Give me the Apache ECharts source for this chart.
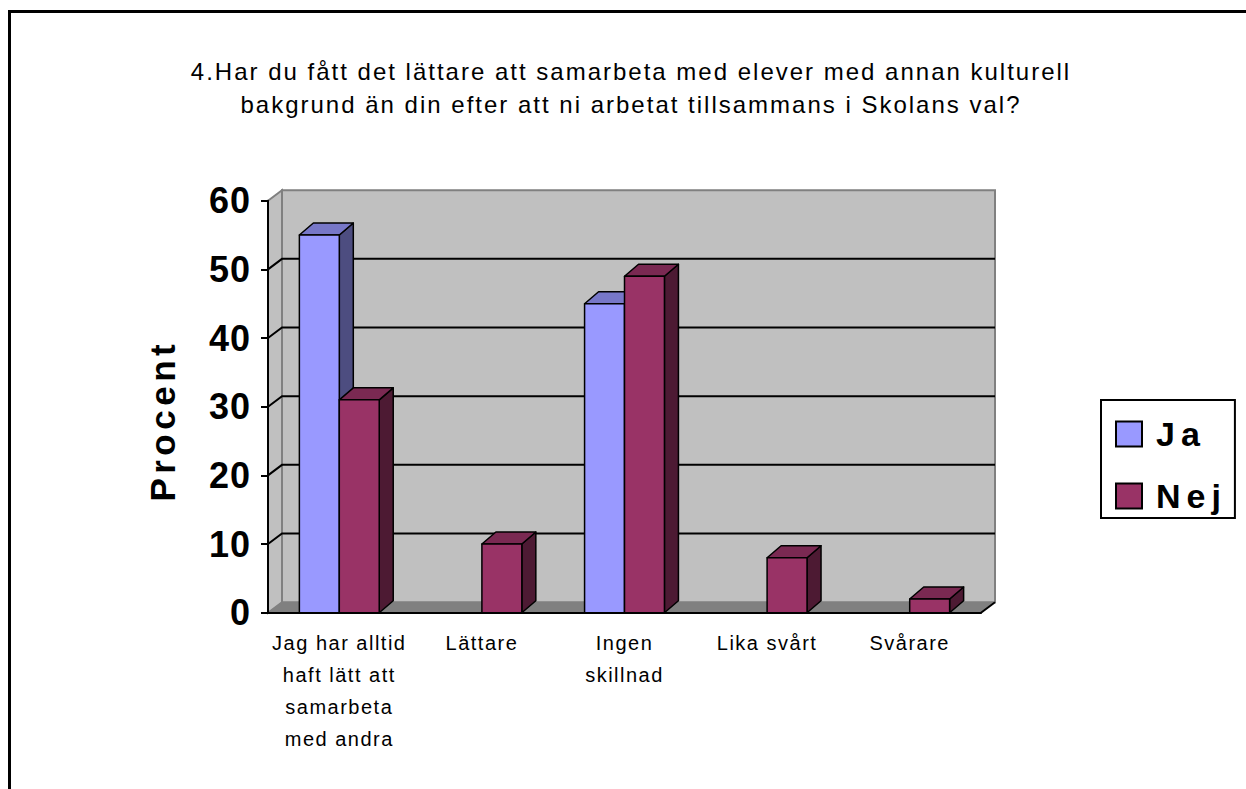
<!DOCTYPE html>
<html>
<head>
<meta charset="utf-8">
<script src="https://cdn.jsdelivr.net/npm/echarts@6/dist/echarts.min.js"></script>
<style>
  html, body { margin: 0; padding: 0; background: #fff; }
  #chart { width: 1246px; height: 789px; }
  /* Excel-style tracking on the texts, keyed on font size */
  #chart text[style*="24px"] { letter-spacing: 2px; }
  #chart text[style*="20px"] { letter-spacing: 1.5px; }
  #chart text[style*="36px"] { letter-spacing: 1px; }
  #chart text[style*="35px"] { letter-spacing: 4.5px; }
  #chart text[style*="34px"] { letter-spacing: 6px; }
</style>
</head>
<body>
<div id="chart"></div>
<script>
const categories = [
  'Jag har alltid\nhaft lätt att\nsamarbeta\nmed andra',
  'Lättare',
  'Ingen\nskillnad',
  'Lika svårt',
  'Svårare'
];
const jaValues = [55, 0, 45, 0, 0];
const nejValues = [31, 10, 49, 8, 2];
const yTicks = [0, 10, 20, 30, 40, 50, 60];

const FONT = '"Liberation Sans", Arial, sans-serif';
// depth offsets of the fake 3d walls and bars
const WDX = 14, WDY = -10.5;
const BDX = 14, BDY = -12;
const BAR_RATIO = 0.28;
const Y_MIN = yTicks[0], Y_MAX = yTicks[yTicks.length - 1];

function renderWalls(params, api) {
  const cs = params.coordSys;
  const xl = cs.x, xr = cs.x + cs.width;
  const yb = api.coord([0, Y_MIN])[1];
  const yt = api.coord([0, Y_MAX])[1];
  const children = [
    { type: 'rect', shape: { x: xl + WDX, y: yt + WDY, width: xr - xl, height: yb - yt },
      style: { fill: '#c0c0c0', stroke: '#808080', lineWidth: 2 } },
    { type: 'polygon', shape: { points: [[xl, yt], [xl + WDX, yt + WDY], [xl + WDX, yb + WDY], [xl, yb]] },
      style: { fill: '#c0c0c0', stroke: '#808080', lineWidth: 2 } },
    { type: 'polygon', shape: { points: [[xl, yb], [xl + WDX, yb + WDY], [xr + WDX, yb + WDY], [xr, yb]] },
      style: { fill: '#808080' } }
  ];
  yTicks.forEach(function (t) {
    if (t === Y_MIN || t === Y_MAX) return;
    const y = api.coord([0, t])[1];
    children.push({ type: 'polyline',
      shape: { points: [[xl, y], [xl + WDX, y + WDY], [xr + WDX, y + WDY]] },
      style: { stroke: '#000', lineWidth: 2, fill: null } });
  });
  children.push({ type: 'line', shape: { x1: xr, y1: yb, x2: xr + WDX, y2: yb + WDY },
    style: { stroke: '#000', lineWidth: 2 } });
  return { type: 'group', children: children };
}

function barRenderer(shift, front, top, side) {
  return function (params, api) {
    const v = api.value(1);
    if (!v) return null;
    const base = api.coord([api.value(0), 0]);
    const peak = api.coord([api.value(0), v]);
    const bw = api.size([1, 0])[0] * BAR_RATIO;
    const x0 = base[0] + shift * bw, x1 = x0 + bw;
    const y0 = base[1], y1 = peak[1];
    const edge = { stroke: '#000', lineWidth: 1.5, lineJoin: 'round' };
    return {
      type: 'group',
      children: [
        { type: 'polygon', shape: { points: [[x1, y1], [x1 + BDX, y1 + BDY], [x1 + BDX, y0 + BDY], [x1, y0]] },
          style: Object.assign({ fill: side }, edge) },
        { type: 'polygon', shape: { points: [[x0, y1], [x0 + BDX, y1 + BDY], [x1 + BDX, y1 + BDY], [x1, y1]] },
          style: Object.assign({ fill: top }, edge) },
        { type: 'rect', shape: { x: x0, y: y1, width: bw, height: y0 - y1 },
          style: Object.assign({ fill: front }, edge) }
      ]
    };
  };
}

const chart = echarts.init(document.getElementById('chart'), null, { renderer: 'svg' });
chart.setOption({
  animation: false,
  backgroundColor: '#fff',
  title: {
    text: '4.Har du fått det lättare att samarbeta med elever med annan kulturell\nbakgrund än din efter att ni arbetat tillsammans i Skolans val?',
    left: 631,
    top: 55,
    padding: 0,
    textAlign: 'center',
    textStyle: { fontFamily: FONT, fontSize: 24, fontWeight: 'normal', lineHeight: 33, color: '#000' }
  },
  graphic: [{
    type: 'rect', silent: true,
    shape: { x: 9.5, y: 11.5, width: 1400, height: 1000 },
    style: { fill: null, stroke: '#000', lineWidth: 3 }
  }],
  legend: {
    data: ['Ja', 'Nej'],
    orient: 'vertical',
    left: 1101, top: 400,
    icon: 'rect',
    itemWidth: 26, itemHeight: 25, itemGap: 26,
    borderColor: '#000', borderWidth: 2,
    padding: [16, 26, 4, 14],
    itemStyle: { borderColor: '#000', borderWidth: 2 },
    textStyle: { fontFamily: FONT, fontSize: 34, fontWeight: 'bold', color: '#000', lineHeight: 36, padding: [0, 0, 0, 9] }
  },
  grid: { left: 268, right: 265, top: 200.7, bottom: 176.3 },
  xAxis: {
    type: 'category',
    data: categories,
    z: 5,
    axisLine: { lineStyle: { color: '#000', width: 2 } },
    axisTick: { length: 7, lineStyle: { color: '#000', width: 2 } },
    axisLabel: { interval: 0, margin: 14, fontFamily: FONT, fontSize: 20, lineHeight: 32, color: '#000' }
  },
  yAxis: {
    type: 'value',
    min: Y_MIN, max: Y_MAX, interval: 10,
    z: 5,
    name: 'Procent', nameLocation: 'middle', nameGap: 88, nameRotate: 90,
    nameTextStyle: { fontFamily: FONT, fontSize: 35, fontWeight: 'bold', color: '#000', padding: [0, 28, 0, 0] },
    axisLine: { show: true, lineStyle: { color: '#000', width: 2 } },
    axisTick: { show: true, length: 7, lineStyle: { color: '#000', width: 2 } },
    axisLabel: { margin: 17, fontFamily: FONT, fontSize: 36, fontWeight: 'bold', color: '#000' },
    splitLine: { show: false }
  },
  series: [
    { name: 'walls', type: 'custom', z: 1, silent: true, renderItem: renderWalls, data: [[0, 0]] },
    { name: 'Ja', type: 'custom', z: 2, itemStyle: { color: '#9999ff' },
      renderItem: barRenderer(-1, '#9999ff', '#7777c8', '#4d4d80'),
      encode: { x: 0, y: 1 },
      data: jaValues.map(function (v, i) { return [i, v]; }) },
    { name: 'Nej', type: 'custom', z: 3, itemStyle: { color: '#993366' },
      renderItem: barRenderer(0, '#993366', '#7a2952', '#4d1a33'),
      encode: { x: 0, y: 1 },
      data: nejValues.map(function (v, i) { return [i, v]; }) }
  ]
});
</script>
</body>
</html>
